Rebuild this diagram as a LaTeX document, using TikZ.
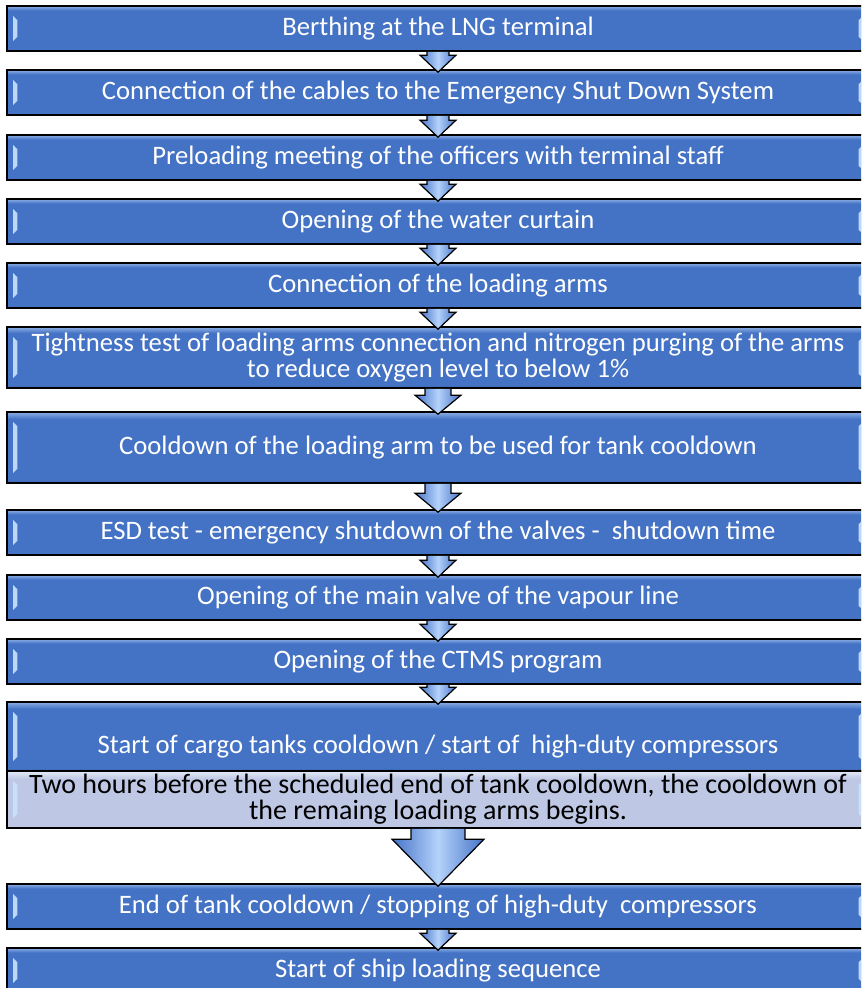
\documentclass[tikz,border=0pt]{standalone}
\usepackage{fontspec}
\setmainfont{Carlito}
\usetikzlibrary{calc}

\definecolor{boxblue}{RGB}{68,114,196}
\definecolor{boxhi}{RGB}{140,175,228}
\definecolor{boxlow}{RGB}{52,90,165}
\definecolor{notefill}{RGB}{190,200,228}
\definecolor{notehi}{RGB}{228,233,246}
\definecolor{bevelcol}{RGB}{200,228,255}
\definecolor{arrowblue}{RGB}{70,115,200}
\definecolor{arrowhi}{RGB}{180,210,250}

\pgfdeclareverticalshading{stepshade}{100bp}{color(0bp)=(boxlow); color(25bp)=(boxlow); color(27bp)=(boxblue); color(70bp)=(boxblue); color(75bp)=(boxhi); color(100bp)=(boxhi)}
\pgfdeclareverticalshading{noteshade}{100bp}{color(0bp)=(notefill); color(25bp)=(notefill); color(68bp)=(notefill); color(75bp)=(notehi); color(100bp)=(notehi)}

\newcommand{\steptext}{\fontsize{20}{19.5}\selectfont}
\newcommand{\notetext}{\fontsize{21}{19.6}\selectfont}
\newcommand{\flowarrow}[5]{%
  \draw[flow] ($(#1.south)+(-#3,0)$) -- ($(#2.north)+(-#3,3-#5)$) -- ($(#2.north)+(-#4,3-#5)$)
    -- ($(#2.north)+(0,3)$) -- ($(#2.north)+(#4,3-#5)$) -- ($(#2.north)+(#3,3-#5)$) -- ($(#1.south)+(#3,0)$);
}

\tikzset{
  bevelled/.style={path picture={
    \fill[bevelcol, opacity=0.9] ($(path picture bounding box.north west)+(4.5pt,-7.5pt)$)
      -- ($(path picture bounding box.south west)+(4.5pt,7.5pt)$) -- ++(3.2pt,3pt)
      -- ($(path picture bounding box.north west)+(7.7pt,-10.5pt)$) -- cycle;
    \fill[bevelcol, opacity=0.9] ($(path picture bounding box.north east)+(-4.5pt,-7.5pt)$)
      -- ($(path picture bounding box.south east)+(-4.5pt,7.5pt)$) -- ++(-3.2pt,3pt)
      -- ($(path picture bounding box.north east)+(-7.7pt,-10.5pt)$) -- cycle;
  }},
  stepbox/.style={draw=black, line width=1.2pt, shade, shading=stepshade, bevelled,
    minimum width=646.5pt, minimum height=#1*0.75pt, inner sep=0pt,
    text=white, font=\steptext, align=center},
  stepbox/.default=45,
  notebox/.style={draw=black, line width=1.2pt, shade, shading=noteshade, bevelled,
    minimum width=646.5pt, minimum height=#1*0.75pt, inner sep=0pt,
    text=black, font=\notetext, align=center},
  flow/.style={draw=black, line width=0.9pt, line join=miter,
    left color=arrowblue, right color=arrowblue, middle color=arrowhi}
}

\begin{document}
\begin{tikzpicture}[x=0.75pt,y=-0.75pt]
  \useasboundingbox (0,0) rectangle (861,988);
  \clip (0,0) rectangle (861,988);
  % steps
  \node[stepbox] (b1) at (438,28.5) {Berthing at the LNG terminal};
  \node[stepbox] (b2) at (438,92.5) {Connection of the cables to the Emergency Shut Down System};
  \node[stepbox] (b3) at (438,157.5) {Preloading meeting of the officers with terminal staff};
  \node[stepbox] (b4) at (438,221.5) {Opening of the water curtain};
  \node[stepbox] (b5) at (438,285.5) {Connection of the loading arms};
  \node[stepbox=61] (b6) at (438,357.5) {Tightness test of loading arms connection and nitrogen purging of the arms\\to reduce oxygen level to below 1\%};
  \node[stepbox=71] (b7) at (438,447.5) {Cooldown of the loading arm to be used for tank cooldown};
  \node[stepbox] (b8) at (438,532.5) {ESD test - emergency shutdown of the valves -\ \ shutdown time};
  \node[stepbox] (b9) at (438,597.5) {Opening of the main valve of the vapour line};
  \node[stepbox] (b10) at (438,661.5) {Opening of the CTMS program};
  \node[stepbox=69] (b11) at (438,736.5) {};
  \node[text=white, font=\steptext] (t11) at (438,747) {Start of cargo tanks cooldown / start of\ \ high-duty compressors};
  \node[notebox=57] (n11) at (438,799.5) {Two hours before the scheduled end of tank cooldown, the cooldown of\\the remaing loading arms begins.};
  \node[stepbox] (b12) at (438,906.5) {End of tank cooldown / stopping of high-duty\ \ compressors};
  \node[stepbox] (b13) at (438,970.5) {Start of ship loading sequence};
  % arrows
  \flowarrow{b1}{b2}{11}{18}{17}
  \flowarrow{b2}{b3}{11}{18}{17}
  \flowarrow{b3}{b4}{11}{18}{17}
  \flowarrow{b4}{b5}{11}{18}{17}
  \flowarrow{b5}{b6}{11}{18}{17}
  \flowarrow{b6}{b7}{13}{23}{19}
  \flowarrow{b7}{b8}{13}{23}{19}
  \flowarrow{b8}{b9}{11}{18}{17}
  \flowarrow{b9}{b10}{11}{18}{17}
  \flowarrow{b10}{b11}{11}{18}{17}
  \flowarrow{n11}{b12}{27}{46}{47}
  \flowarrow{b12}{b13}{11}{18}{17}
\end{tikzpicture}
\end{document}
